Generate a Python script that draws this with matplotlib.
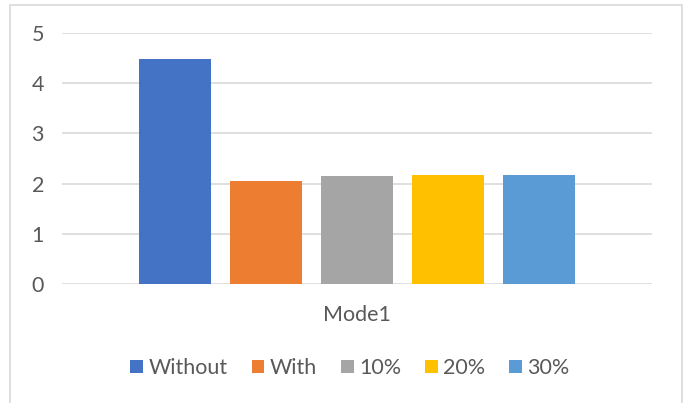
import matplotlib.pyplot as plt
from matplotlib.patches import Rectangle

# data
series = ['Without', 'With', '10%', '20%', '30%']
values = [4.48, 2.05, 2.15, 2.17, 2.17]
colors = ['#4472C4', '#ED7D31', '#A5A5A5', '#FFC000', '#5B9BD5']
category = 'Mode1'

plt.rcParams['font.family'] = ['Lato', 'DejaVu Sans']

fig = plt.figure(figsize=(6.85, 4.03), dpi=100)
ax = fig.add_axes([62/685, 1-284/403, 590/685, 251/403])

# chart border
fig.patches.append(Rectangle((10/685, -0.05), 672/685, 1.05-5/403, transform=fig.transFigure,
                             fill=False, edgecolor='#d9d9d9', linewidth=1.2))

xs = list(range(len(series)))
for i, s in enumerate(series):
    ax.bar(xs[i], values[i], width=0.793, color=colors[i], label=s, zorder=3)

ax.set_ylim(0, 5)
ax.set_xlim(-1.25, 5.25)
ax.set_yticks([0, 1, 2, 3, 4, 5])
ax.yaxis.grid(True, color='#d9d9d9', linewidth=1.2, zorder=0)
ax.set_xticks([2])
ax.set_xticklabels([category])
ax.tick_params(axis='both', length=0, labelsize=15.5, labelcolor='#595959')
ax.tick_params(axis='y', pad=13)
ax.tick_params(axis='x', pad=15)
for sp in ax.spines.values():
    sp.set_visible(False)

fig.legend(loc='center', bbox_to_anchor=(350/685, 1-368/403), ncol=5, frameon=False,
           fontsize=15.5, labelcolor='#595959', handlelength=0.6, handleheight=0.6,
           handletextpad=0.25, columnspacing=1.1)

fig.savefig('out.png', dpi=100)
